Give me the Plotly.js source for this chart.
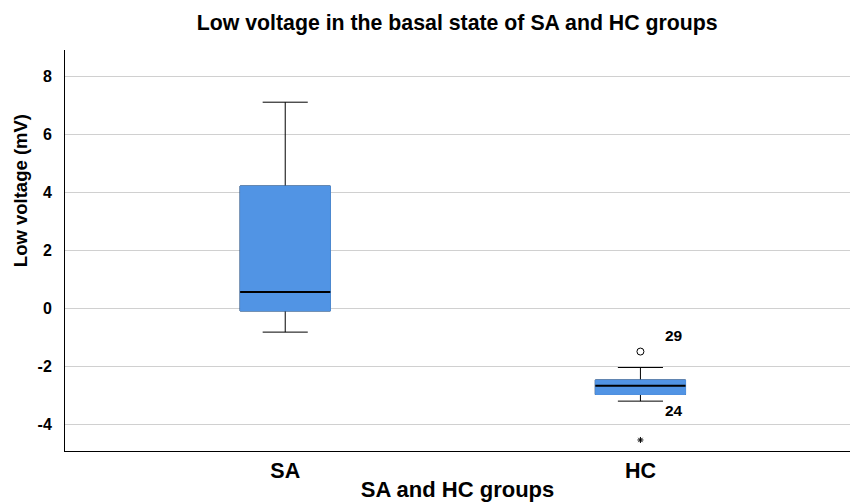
<!DOCTYPE html>
<html><head><meta charset="utf-8">
<script src="https://cdn.plot.ly/plotly-3.0.1.min.js"></script>
<style>html,body{margin:0;padding:0;background:#fff}#chart{width:853px;height:502px}</style>
</head><body><div id="chart"></div>
<script>
const categories = ['SA', 'HC'];
const q1 = [-0.10, -2.98];
const medians = [0.55, -2.68];
const q3 = [4.21, -2.48];
const lowerFence = [-0.83, -3.21];
const upperFence = [7.10, -2.05];
const outlierCat = ['HC'];
const outlierVal = [-1.50];
const extremeCat = ['HC'];
const extremeVal = [-4.55];
const labelCat = ['HC', 'HC'];
const labelVal = [-0.93, -3.52];
const labelText = ['29', '24'];
const yTickVals = [-4, -2, 0, 2, 4, 6, 8];
const yTickText = ['-4', '-2', '0', '2', '4', '6', '8'];
const yTitle = 'Low voltage (mV)';

const blue = '#5194e4';
const bw = 0.254;
const font = 'Liberation Sans, Arial, sans-serif';

const traces = [
  {type:'box', x:categories, q1:q1, median:medians, q3:q3, lowerfence:lowerFence, upperfence:upperFence,
   width:bw, whiskerwidth:0.5, fillcolor:'rgba(0,0,0,0)', line:{color:'#000', width:1}, boxpoints:false, hoverinfo:'skip', showlegend:false},
  {type:'box', x:categories, q1:q1, median:medians, q3:q3, lowerfence:q1, upperfence:q3,
   width:bw, whiskerwidth:0, fillcolor:blue, line:{color:blue, width:1}, boxpoints:false, hoverinfo:'skip', showlegend:false},
  {type:'box', x:categories, q1:medians, median:medians, q3:medians, lowerfence:medians, upperfence:medians,
   width:bw, whiskerwidth:0, fillcolor:'rgba(0,0,0,0)', line:{color:'#000', width:2}, boxpoints:false, hoverinfo:'skip', showlegend:false},
  {type:'scatter', mode:'markers', x:outlierCat, y:outlierVal,
   marker:{symbol:'circle-open', size:7, color:'#000', line:{width:1, color:'#000'}}, showlegend:false},
  {type:'scatter', mode:'markers', x:extremeCat, y:extremeVal,
   marker:{symbol:'asterisk-open', size:5, color:'#000', line:{width:1, color:'#000'}}, showlegend:false}
];

const annotations = labelText.map((t, i) => ({
  x: labelCat[i], y: labelVal[i], xref:'x', yref:'y', text:'<b>' + t + '</b>', showarrow:false,
  xanchor:'left', yanchor:'middle', xshift:23, font:{family:font, size:15.5, color:'#000'}
}));
annotations.push({
  x:0, xref:'paper', y:0.648, yref:'paper', xshift:-45, textangle:-90, showarrow:false,
  xanchor:'center', yanchor:'middle', text:'<b>' + yTitle + '</b>', font:{family:font, size:18.5, color:'#000'}
});

const layout = {
  width:853, height:502,
  margin:{l:65, r:3, t:50, b:51},
  paper_bgcolor:'#fff', plot_bgcolor:'#fff',
  boxmode:'overlay',
  showlegend:false,
  annotations: annotations,
  title:{text:'<b>Low voltage in the basal state of SA and HC groups</b>', x:0.536, xanchor:'center', y:0.955, yanchor:'middle',
         font:{family:font, size:21.3, color:'#000'}},
  xaxis:{type:'category', range:[-0.62, 1.59], showgrid:false, zeroline:false,
         showline:true, linecolor:'#000', linewidth:1, ticks:'',
         tickfont:{family:font, size:21.5, color:'#000', weight:'bold'},
         title:{text:'<b>SA and HC groups</b>', font:{family:font, size:22, color:'#000'}, standoff:3}},
  yaxis:{range:[-4.93, 8.9], tickvals:yTickVals, ticktext:yTickText, showgrid:true, gridcolor:'#d0d0d0', gridwidth:1,
         zeroline:false, showline:true, linecolor:'#000', linewidth:1, ticks:'', ticklabelstandoff:9,
         tickfont:{family:font, size:16, color:'#000', weight:'bold'}}
};

Plotly.newPlot('chart', traces, layout, {staticPlot:true, displayModeBar:false});
</script>
</body></html>
